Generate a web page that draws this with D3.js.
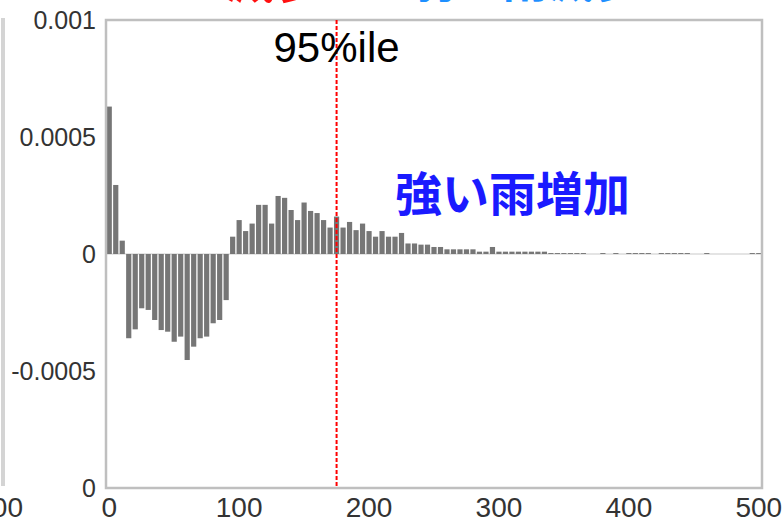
<!DOCTYPE html>
<html>
<head>
<meta charset="utf-8">
<script src="https://cdn.jsdelivr.net/npm/d3@7"></script>
<style>
    body { margin: 0; background: #fff; }
    svg { display: block; }
</style>
</head>
<body>
<div id="chart"></div>
<script>

// bin starts (rain intensity classes, step 5)
const binStarts = d3.range(0, 505, 5);

// frequency difference per bin
const diffValues = [
    0.00063, 0.000295, 0.000057, -0.00036, -0.000322, -0.000232, -0.000239, -0.000282,
    -0.000325, -0.000332, -0.000375, -0.000353, -0.000453, -0.000396, -0.00036, -0.000353,
    -0.000296, -0.000282, -0.000197, 0.000074, 0.000145, 0.000098, 0.00013, 0.00021,
    0.00021, 0.00013, 0.000248, 0.00024, 0.000188, 0.000145, 0.00022, 0.000184,
    0.000175, 0.000145, 0.000113, 0.00016, 0.000113, 0.000137, 0.000102, 0.00013,
    0.000098, 0.000074, 0.000098, 0.000074, 0.000074, 0.00009, 0.000045, 0.000045,
    0.00004, 0.00004, 0.00003, 0.00003, 0.00002, 0.00002, 0.00002, 0.00002,
    0.00002, 0.00001, 0.00001, 0.00003, 0.00001, 0.00001, 0.00001, 0.00001,
    0.00001, 0.00001, 0.00001, 0.00001, 0.000004, 0.000004, 0.000004, 0.000004,
    0.000004, 0.000004, 0, 0, 0.000004, 0, 0.000004, 0,
    0.000004, 0.000004, 0.000004, 0.000004, 0, 0.000004, 0.000004, 0.000004,
    0.000004, 0.000004, 0, 0, 0.000004, 0, 0, 0,
    0, 0, 0, 0.000004, 0.000004
];

const xTickValues = [0, 100, 200, 300, 400, 500];
const yTickValues = [0.001, 0.0005, 0, -0.0005, -0.001];
const yTickLabels = ["0.001", "0.0005", "0", "-0.0005", "0"];

const p95 = 175;
const p95Label = "95%ile";
const noteLabel = "強い雨増加";
const titleRed = "減少";
const titleBlue = "弱い雨減少";

const W = 783, H = 518;
const margin = {top: 20, right: 21, bottom: 30, left: 106};
const width = W - margin.left - margin.right;
const height = H - margin.top - margin.bottom;

const svg = d3.select("#chart").append("svg")
    .attr("width", W)
    .attr("height", H);

// neighbouring panel edge (cut off on the left)
svg.append("line")
    .attr("x1", 3).attr("x2", 3)
    .attr("y1", 18).attr("y2", 486)
    .attr("stroke", "#d4d4d4")
    .attr("stroke-width", 4);
svg.append("text")
    .attr("x", 23).attr("y", 517)
    .attr("text-anchor", "end")
    .attr("font-family", "'Liberation Sans', Arial, sans-serif")
    .attr("font-size", 28)
    .attr("fill", "#333")
    .text("500");

// title fragments (mostly above the picture)
svg.append("text")
    .attr("x", 225).attr("y", -2)
    .attr("font-family", "'Noto Sans CJK JP', sans-serif")
    .attr("font-weight", 700)
    .attr("font-size", 50)
    .attr("fill", "#ff1010")
    .text(titleRed);
svg.append("text")
    .attr("x", 410).attr("y", -3)
    .attr("font-family", "'Noto Sans CJK JP', sans-serif")
    .attr("font-weight", 700)
    .attr("font-size", 46)
    .attr("fill", "#1e90ff")
    .text(titleBlue);

const g = svg.append("g")
    .attr("transform", `translate(${margin.left},${margin.top})`);

const x = d3.scaleBand()
    .domain(binStarts)
    .range([0, width])
    .paddingInner(0.2)
    .paddingOuter(0.1);

const y = d3.scaleLinear()
    .domain([-0.001, 0.001])
    .range([height, 0]);

// zero line
g.append("line")
    .attr("x1", 0).attr("x2", width)
    .attr("y1", y(0)).attr("y2", y(0))
    .attr("stroke", "#e4e4e4")
    .attr("stroke-width", 2);

// bars
g.selectAll("rect.bar")
    .data(binStarts.map((b, i) => ({bin: b, v: diffValues[i]})))
    .join("rect")
    .attr("class", "bar")
    .attr("x", d => x(d.bin))
    .attr("width", x.bandwidth())
    .attr("y", d => y(Math.max(0, d.v)))
    .attr("height", d => Math.abs(y(d.v) - y(0)))
    .attr("fill", "#767676");

// frame
g.append("rect")
    .attr("x", 0).attr("y", 0)
    .attr("width", width).attr("height", height)
    .attr("fill", "none")
    .attr("stroke", "#bfbfbf")
    .attr("stroke-width", 2.5);

// 95 percentile line
const px = x(p95) + x.bandwidth() / 2;
g.append("line")
    .attr("x1", px).attr("x2", px)
    .attr("y1", 0).attr("y2", height)
    .attr("stroke", "#ff0000")
    .attr("stroke-width", 2)
    .attr("stroke-dasharray", "4,2");

g.append("text")
    .attr("x", px).attr("y", 42)
    .attr("text-anchor", "middle")
    .attr("font-family", "'Liberation Sans', Arial, sans-serif")
    .attr("font-size", 42)
    .attr("fill", "#000")
    .text(p95Label);

g.append("text")
    .attr("x", 289).attr("y", 191)
    .attr("font-family", "'Noto Sans CJK JP', sans-serif")
    .attr("font-weight", 700)
    .attr("font-size", 47)
    .attr("fill", "#1a1aff")
    .text(noteLabel);

// axes
const xAxis = d3.axisBottom(x)
    .tickValues(xTickValues)
    .tickSize(0)
    .tickPadding(9);
g.append("g")
    .attr("class", "axis x-axis")
    .attr("transform", `translate(0,${height})`)
    .call(xAxis)
    .call(s => s.select(".domain").remove())
    .selectAll("text")
    .attr("font-family", "'Liberation Sans', Arial, sans-serif")
    .attr("font-size", 28)
    .attr("fill", "#333");

const yAxis = d3.axisLeft(y)
    .tickValues(yTickValues)
    .tickFormat((d, i) => yTickLabels[i])
    .tickSize(0)
    .tickPadding(10);
g.append("g")
    .attr("class", "axis y-axis")
    .call(yAxis)
    .call(s => s.select(".domain").remove())
    .selectAll("text")
    .attr("font-family", "'Liberation Sans', Arial, sans-serif")
    .attr("font-size", 25)
    .attr("fill", "#333");

</script>
</body>
</html>
